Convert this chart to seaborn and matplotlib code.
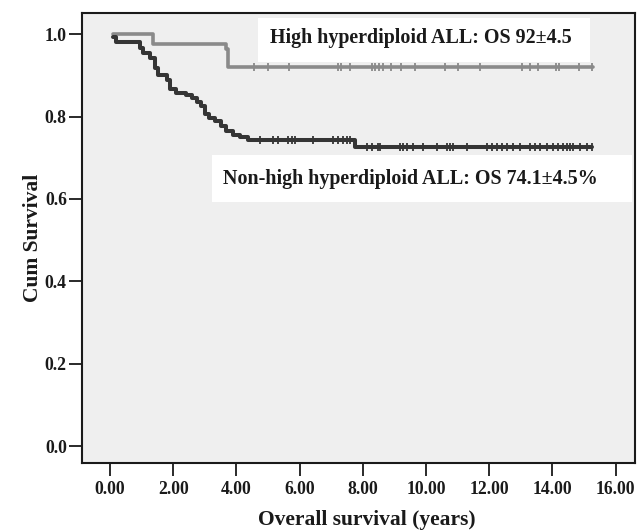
import numpy as np
import pandas as pd
import matplotlib
matplotlib.use("Agg")
import matplotlib.pyplot as plt
from matplotlib.patches import Rectangle
import seaborn as sns

# ---- data ----
high_times = [0.10, 1.36, 3.67, 3.72, 15.28]
high_surv = [1.000, 0.976, 0.965, 0.920, 0.920]
high_censor = [4.55, 5.00, 5.65, 7.20, 7.30, 7.60, 8.30, 8.40, 8.50, 8.65, 8.90,
               9.20, 9.65, 10.60, 11.00, 11.70, 13.05, 13.30, 13.55, 14.10,
               14.20, 14.85, 15.25]

non_times = [0.10, 0.20, 0.95, 1.05, 1.27, 1.42, 1.53, 1.79, 1.90, 2.08, 2.42,
             2.60, 2.75, 2.87, 3.00, 3.12, 3.32, 3.50, 3.68, 3.90, 4.10, 4.38,
             7.75, 15.25]
non_surv = [0.993, 0.982, 0.967, 0.953, 0.941, 0.918, 0.900, 0.888, 0.866,
            0.857, 0.852, 0.845, 0.835, 0.825, 0.807, 0.797, 0.788, 0.776,
            0.764, 0.756, 0.750, 0.743, 0.725, 0.725]
non_censor = [4.75, 5.17, 5.33, 5.64, 5.75, 5.85, 6.43, 7.05, 7.22, 7.38, 7.49,
              7.59, 8.12, 8.28, 8.49, 8.54, 9.18, 9.28, 9.39, 9.60, 9.92, 10.34,
              10.66, 10.76, 10.87, 11.29, 11.92, 12.08, 12.24, 12.40, 12.55,
              12.76, 12.97, 13.29, 13.45, 13.61, 13.82, 14.03, 14.19, 14.34,
              14.45, 14.56, 14.66, 14.87, 15.09, 15.24]

x_ticks = [0, 2, 4, 6, 8, 10, 12, 14, 16]
x_tick_labels = ["0.00", "2.00", "4.00", "6.00", "8.00", "10.00", "12.00", "14.00", "16.00"]
y_ticks = [0.0, 0.2, 0.4, 0.6, 0.8, 1.0]
y_tick_labels = ["0.0", "0.2", "0.4", "0.6", "0.8", "1.0"]

high_label = "High hyperdiploid ALL: OS 92\u00b14.5"
non_label = "Non-high hyperdiploid ALL: OS 74.1\u00b14.5%"

# ---- style ----
sns.set_style("ticks")
plt.rcParams["font.family"] = ["Liberation Serif", "DejaVu Serif"]
plt.rcParams["font.weight"] = "bold"

fig = plt.figure(figsize=(6.37, 5.30), dpi=100)
ax = fig.add_axes([0.1287, 0.127, 0.868, 0.849])
ax.set_facecolor("#efefef")

high_col = "#8a8a8a"
non_col = "#353535"


def step_at(times, surv, pts):
    idx = np.searchsorted(np.asarray(times), np.asarray(pts), side="right") - 1
    return np.asarray(surv)[idx]


df_high = pd.DataFrame({"t": high_times, "s": high_surv})
df_non = pd.DataFrame({"t": non_times, "s": non_surv})

sns.lineplot(data=df_high, x="t", y="s", drawstyle="steps-post", estimator=None,
             sort=False, color=high_col, lw=2.6, ax=ax)
sns.lineplot(data=df_non, x="t", y="s", drawstyle="steps-post", estimator=None,
             sort=False, color=non_col, lw=2.9, ax=ax)

dfc_high = pd.DataFrame({"t": high_censor, "s": step_at(high_times, high_surv, high_censor)})
dfc_non = pd.DataFrame({"t": non_censor, "s": step_at(non_times, non_surv, non_censor)})
sns.scatterplot(data=dfc_high, x="t", y="s", marker="|", s=40, color=high_col,
                linewidth=1.3, ax=ax, zorder=3)
sns.scatterplot(data=dfc_non, x="t", y="s", marker="|", s=40, color=non_col,
                linewidth=1.3, ax=ax, zorder=3)

ax.set_xlim(-0.886, 16.61)
ax.set_ylim(-0.0405, 1.052)
ax.set_xticks(x_ticks)
ax.set_xticklabels(x_tick_labels)
ax.set_yticks(y_ticks)
ax.set_yticklabels(y_tick_labels)

for sp in ax.spines.values():
    sp.set_linewidth(1.5)
    sp.set_color("#1a1a1a")

ax.tick_params(axis="both", length=9.4, width=1.4, color="#2a2a2a",
               labelsize=12.7, labelcolor="#1a1a1a")
ax.tick_params(axis="x", pad=4)
ax.tick_params(axis="y", pad=1.5)
for lab in ax.get_xticklabels() + ax.get_yticklabels():
    lab.set_fontweight("bold")

ax.set_xlabel("Overall survival (years)", fontsize=15.5, fontweight="bold",
              color="#1a1a1a", va="center")
ax.set_ylabel("Cum Survival", fontsize=15.5, fontweight="bold",
              color="#1a1a1a", va="center")
ax.xaxis.set_label_coords(0.516, -0.127)
ax.yaxis.set_label_coords(-0.088, 0.5)

# white label boxes (axes-fraction geometry)
ax.add_patch(Rectangle((0.318, 0.890), 0.601, 0.098, transform=ax.transAxes,
                       facecolor="white", edgecolor="none", zorder=3.5))
ax.add_patch(Rectangle((0.235, 0.579), 0.760, 0.105, transform=ax.transAxes,
                       facecolor="white", edgecolor="none", zorder=3.5))

ax.text(5.06, 0.990, high_label, ha="left", va="center", fontsize=14.4,
        fontweight="bold", color="#1a1a1a", zorder=4)
ax.text(3.58, 0.649, non_label, ha="left", va="center", fontsize=14.4,
        fontweight="bold", color="#1a1a1a", zorder=4)

fig.savefig("out.png", dpi=100, facecolor="white")
